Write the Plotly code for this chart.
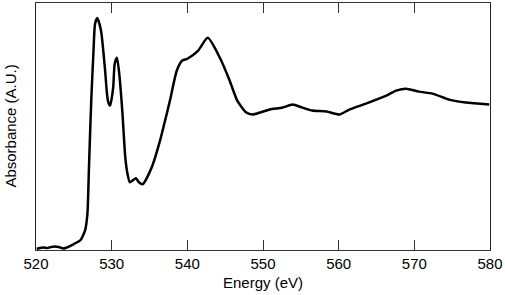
import plotly.graph_objects as go

energy = [520.1, 520.5, 521.0, 521.5, 522.0, 522.5, 523.0, 523.6, 523.9, 524.5, 525.0, 525.5, 525.9,
          526.5, 526.8, 527.0, 527.3, 527.6, 527.8, 528.1, 528.6, 529.1, 529.5, 529.8, 530.2, 530.4,
          530.7, 531.0, 531.4, 531.8, 532.1, 532.4, 532.8, 533.2, 533.6, 534.1, 535.3, 536.4, 536.8,
          537.7, 538.6, 539.3, 540.0, 541.4, 542.7, 544.3, 545.6, 546.6, 547.8, 548.6, 549.6, 550.9,
          552.6, 553.9, 555.2, 556.5, 558.4, 560.1, 561.4, 563.6, 566.3, 567.6, 568.9, 570.6, 572.4,
          574.6, 576.8, 579.9]
absorb = [1, 2, 2.5, 2, 3, 3.5, 3, 1.5, 2, 4, 6, 8, 10,
          20, 37, 83, 150, 200, 227, 233, 220, 183, 150, 145, 163, 187,
          193, 177, 140, 93, 76, 68, 70, 72, 68, 66, 83, 110, 122,
          150, 180, 190, 192, 200, 213, 193, 170, 150, 138, 136, 138, 141,
          143, 146, 143, 140, 139, 136, 141, 147, 155, 160, 162, 159, 157,
          151, 148, 146]
x_ticks = [520, 530, 540, 550, 560, 570, 580]

fig = go.Figure()
fig.add_trace(go.Scatter(x=energy, y=absorb, mode="lines",
                         line=dict(color="black", width=2.5, shape="spline", smoothing=0.6),
                         showlegend=False, hoverinfo="skip"))

font = dict(family="Liberation Sans, Arial, Helvetica, sans-serif", size=15, color="black")

fig.update_layout(
    width=505, height=295,
    margin=dict(l=36, r=13, t=2, b=45),
    paper_bgcolor="white", plot_bgcolor="white",
    font=font,
    xaxis=dict(range=[520, 580], tickvals=x_ticks, ticks="inside", ticklen=10, tickwidth=1,
               tickcolor="#333", showline=True, linecolor="#333", linewidth=1.2, mirror="ticks",
               showgrid=False, zeroline=False,
               title=dict(text="Energy (eV)", font=font, standoff=6), tickfont=font),
    yaxis=dict(range=[0, 248], showticklabels=False, ticks="", showline=True, linecolor="#222",
               linewidth=1.2, mirror=True, showgrid=False, zeroline=False),
    annotations=[dict(text="Absorbance (A.U.)", textangle=-90, xref="paper", yref="paper",
                      x=-26 / 456, y=0.5, xanchor="center", yanchor="middle", showarrow=False,
                      font=font)],
)

fig.write_html("out.html", config={"displayModeBar": False},
               post_script="document.body.style.margin='0';document.body.style.overflow='hidden';")
